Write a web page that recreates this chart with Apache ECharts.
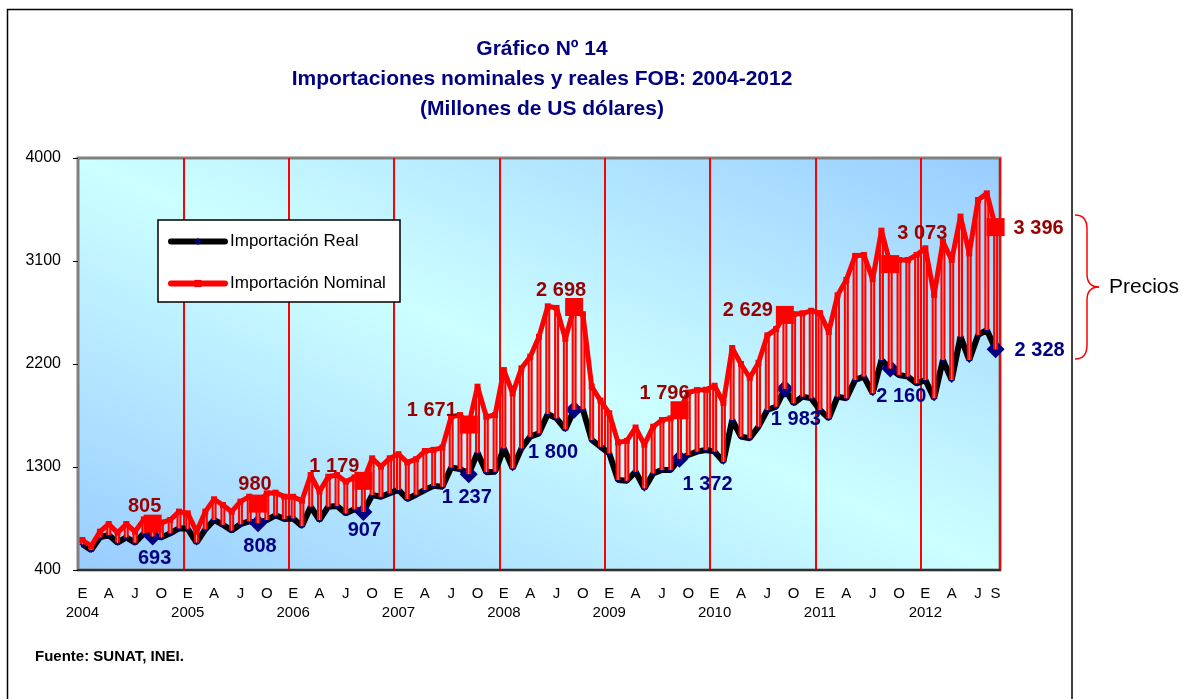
<!DOCTYPE html>
<html>
<head>
<meta charset="utf-8">
<script src="https://cdn.jsdelivr.net/npm/echarts@6.0.0/dist/echarts.min.js"></script>
<style>
html, body { margin: 0; padding: 0; background: #fff; }
#grafico { width: 1192px; height: 699px; }
</style>
</head>
<body>
<div id="grafico"></div>
<script>
// meses y años del eje X
var meses = ['E', 'F', 'M', 'A', 'M', 'J', 'J', 'A', 'S', 'O', 'N', 'D'];
var anios = [2004, 2005, 2006, 2007, 2008, 2009, 2010, 2011, 2012];

// Importación nominal FOB (millones de US$), ene 2004 - set 2012
var importacionNominal = [
  662, 610, 735, 802, 726, 802, 735, 843, 805, 814, 837, 910,
  895, 735, 910, 1018, 968, 910, 997, 1041, 980, 1070, 1076, 1041,
  1040, 1005, 1230, 1085, 1215, 1230, 1172, 1210, 1179, 1376, 1303, 1376,
  1412, 1340, 1368, 1440, 1450, 1470, 1739, 1754, 1671, 2002, 1739, 1754,
  2147, 1943, 2162, 2264, 2438, 2704, 2690, 2420, 2698, 2635, 2002, 1880,
  1769, 1515, 1528, 1645, 1495, 1652, 1710, 1725, 1796, 1950, 1972, 1975,
  2010, 1860, 2340, 2200, 2080, 2210, 2450, 2505, 2629, 2635, 2643, 2665,
  2645, 2480, 2800, 2935, 3145, 3153, 2940, 3365, 3073, 3109, 3109, 3153,
  3211, 2803, 3269, 3109, 3488, 3167, 3633, 3691, 3396
];

// Importación real (millones de US$)
var importacionReal = [
  625, 575, 685, 706, 639, 685, 639, 720, 693, 685, 720, 764,
  760, 640, 755, 837, 795, 745, 800, 825, 808, 837, 878, 845,
  851, 784, 953, 837, 953, 959, 895, 930, 907, 1055, 1040, 1070,
  1100, 1020, 1058, 1099, 1135, 1128, 1295, 1283, 1237, 1425, 1255, 1259,
  1463, 1288, 1463, 1565, 1594, 1763, 1725, 1629, 1800, 1804, 1536, 1477,
  1419, 1186, 1180, 1259, 1113, 1244, 1274, 1274, 1372, 1405, 1434, 1448,
  1434, 1346, 1711, 1565, 1551, 1653, 1798, 1827, 1983, 1856, 1915, 1900,
  1798, 1725, 1915, 1900, 2060, 2090, 1944, 2235, 2160, 2104, 2090, 2031,
  2060, 1900, 2235, 2060, 2439, 2235, 2454, 2497, 2328
];

// meses de setiembre que llevan etiqueta
var destacados = [8, 20, 32, 44, 56, 68, 80, 92, 104];

// desplazamiento de las etiquetas respecto al punto
var offsetNominal = [[-8, -17], [-3, -19], [-29, -14], [-37, -14], [-13, -17], [-15, -17], [-37, -4], [32, -31], [43, 1]];
var offsetReal = [[2, 22], [2, 23], [1, 19], [-2, 23], [-21, 43], [28, 26], [11, 31], [11, 28], [44, 1]];

var fuente = "'Liberation Sans', Arial, sans-serif";

var categorias = [];
for (var i = 0; i < importacionNominal.length; i++) {
  var m = i % 12;
  categorias.push(meses[m] + (m === 0 ? '\n' + anios[Math.floor(i / 12)] : ''));
}
// la última etiqueta del eje muestra S (setiembre)
var ultimo = categorias.length - 1;

function conEspacio(v) {
  return String(v).replace(/\B(?=(\d{3})+(?!\d))/g, ' ');
}

function puntos(valores, offsets, tam) {
  return valores.map(function (v, i) {
    var k = destacados.indexOf(i);
    if (k < 0) return v;
    return { value: v, symbolSize: tam, label: { show: true, offset: offsets[k] } };
  });
}

var barras = importacionReal.map(function (v, i) {
  return [i, v, importacionNominal[i]];
});

// llave roja "Precios"
var llave = { fill: 'none', stroke: '#FF0000', lineWidth: 1.5 };

var myChart = echarts.init(document.getElementById('grafico'));

myChart.setOption({
  animation: false,
  title: {
    text: 'Gráfico Nº 14\nImportaciones nominales y reales FOB: 2004-2012\n(Millones de US dólares)',
    left: 537,
    top: 29,
    textAlign: 'center',
    textStyle: { fontFamily: fuente, fontSize: 21, fontWeight: 'bold', color: '#000080', lineHeight: 30 }
  },
  legend: {
    data: ['Importación Real', 'Importación Nominal'],
    orient: 'vertical',
    left: 163,
    top: 227,
    itemWidth: 54,
    itemHeight: 9,
    itemGap: 23,
    z: 10,
    lineStyle: { width: 6, cap: 'round' },
    textStyle: { fontFamily: fuente, fontSize: 17, color: '#000', lineHeight: 19 }
  },
  grid: {
    left: 78,
    right: 192,
    top: 158,
    bottom: 129,
    show: true,
    borderColor: '#808080',
    borderWidth: 3,
    // degradado diagonal: azul en las esquinas inferior izq. y superior der.
    backgroundColor: {
      type: 'linear', x: 0.3335, y: 1.3335, x2: 0.6665, y2: -0.3335,
      colorStops: [
        { offset: 0, color: '#99CCFF' },
        { offset: 0.5, color: '#CCFFFF' },
        { offset: 1, color: '#99CCFF' }
      ]
    }
  },
  xAxis: {
    type: 'category',
    data: categorias,
    boundaryGap: true,
    axisLine: { show: true, lineStyle: { color: '#303030', width: 2 } },
    axisTick: { show: false },
    axisLabel: {
      interval: function (idx) { return idx % 3 === 0 || idx === ultimo; },
      formatter: function (val, idx) { return idx === ultimo ? 'S' : val; },
      fontFamily: fuente,
      fontSize: 15,
      lineHeight: 19,
      margin: 14,
      color: '#000'
    },
    splitLine: {
      show: true,
      interval: function (idx) { return idx > 0 && idx % 12 === 0; },
      lineStyle: { color: '#FF0000', width: 2 }
    }
  },
  yAxis: {
    type: 'value',
    min: 400,
    max: 4000,
    interval: 900,
    axisLine: { show: false },
    axisTick: { show: true, length: 5, lineStyle: { color: '#000' } },
    splitLine: { show: false },
    axisLabel: {
      formatter: function (v) { return String(v); },
      fontFamily: fuente, fontSize: 16, color: '#000', margin: 17
    }
  },
  series: [
    {
      name: 'Importación Real',
      type: 'line',
      data: puntos(importacionReal, offsetReal, 18),
      symbol: 'diamond',
      symbolSize: 6,
      showAllSymbol: true,
      z: 2,
      lineStyle: { color: '#000', width: 6 },
      itemStyle: { color: '#000080' },
      label: {
        show: false,
        position: 'inside',
        formatter: function (p) { return conEspacio(p.value); },
        fontFamily: fuente,
        fontSize: 20,
        fontWeight: 'bold',
        color: '#000080'
      }
    },
    {
      name: 'brecha',
      type: 'custom',
      data: barras,
      encode: { x: 0, y: [1, 2] },
      z: 3,
      silent: true,
      renderItem: function (params, api) {
        var a = api.coord([api.value(0), api.value(1)]);
        var b = api.coord([api.value(0), api.value(2)]);
        var forma = { x1: a[0], y1: a[1], x2: b[0], y2: b[1] };
        return {
          type: 'group',
          children: [
            { type: 'line', shape: forma, style: { stroke: '#FF0000', lineWidth: 5 } },
            { type: 'line', shape: forma, style: { stroke: '#FF9C9C', lineWidth: 1 } }
          ]
        };
      }
    },
    {
      name: 'Importación Nominal',
      type: 'line',
      data: puntos(importacionNominal, offsetNominal, 18),
      symbol: 'rect',
      symbolSize: 6,
      showAllSymbol: true,
      z: 4,
      lineStyle: { color: '#FF0000', width: 5 },
      itemStyle: { color: '#FF0000' },
      label: {
        show: false,
        position: 'inside',
        formatter: function (p) { return conEspacio(p.value); },
        fontFamily: fuente,
        fontSize: 20,
        fontWeight: 'bold',
        color: '#990000'
      }
    }
  ],
  graphic: [
    {
      type: 'rect',
      z: 0,
      shape: { x: 7.5, y: 9.5, width: 1064.5, height: 700 },
      style: { fill: 'none', stroke: '#000', lineWidth: 1.5 }
    },
    {
      type: 'rect',
      z: 5,
      shape: { x: 158, y: 220, width: 242, height: 82 },
      style: { fill: '#fff', stroke: '#000', lineWidth: 1.5 }
    },
    { type: 'bezierCurve', z: 5, shape: { x1: 1075, y1: 215, cpx1: 1087, cpy1: 215, x2: 1087, y2: 229 }, style: llave },
    { type: 'line', z: 5, shape: { x1: 1087, y1: 229, x2: 1087, y2: 274 }, style: llave },
    { type: 'bezierCurve', z: 5, shape: { x1: 1087, y1: 274, cpx1: 1087, cpy1: 287, x2: 1099, y2: 287 }, style: llave },
    { type: 'bezierCurve', z: 5, shape: { x1: 1099, y1: 287, cpx1: 1087, cpy1: 287, x2: 1087, y2: 300 }, style: llave },
    { type: 'line', z: 5, shape: { x1: 1087, y1: 300, x2: 1087, y2: 345 }, style: llave },
    { type: 'bezierCurve', z: 5, shape: { x1: 1087, y1: 345, cpx1: 1087, cpy1: 359, x2: 1075, y2: 359 }, style: llave },
    {
      type: 'text',
      z: 5,
      x: 1109,
      y: 287,
      style: { text: 'Precios', fontFamily: fuente, fontSize: 21, fill: '#000', verticalAlign: 'middle' }
    },
    {
      type: 'text',
      z: 5,
      x: 35,
      y: 657,
      style: { text: 'Fuente: SUNAT, INEI.', fontFamily: fuente, fontSize: 15, fontWeight: 'bold', fill: '#000', verticalAlign: 'middle' }
    }
  ]
});
</script>
</body>
</html>
